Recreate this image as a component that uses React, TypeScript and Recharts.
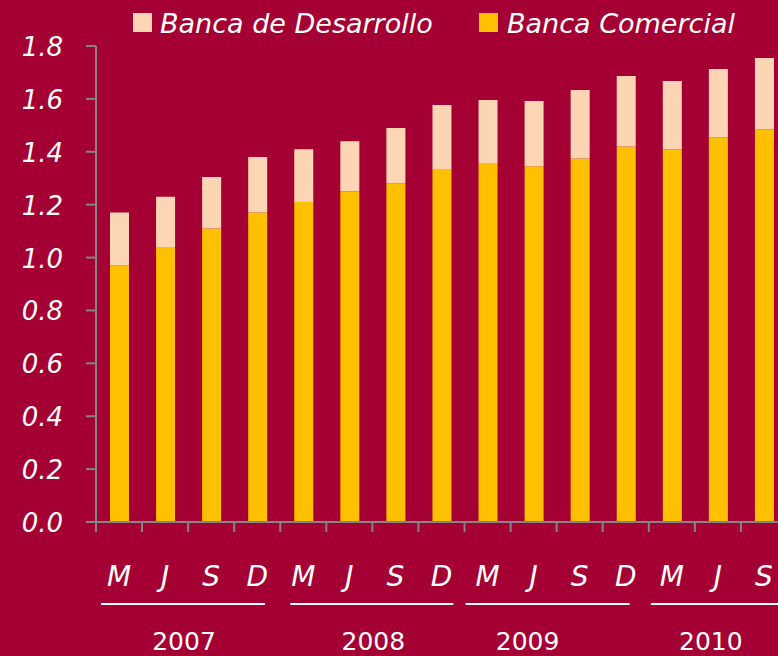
import React from 'react';
import { BarChart, Bar, XAxis, YAxis, Legend } from 'recharts';

const periods = ['Mar-07','Jun-07','Sep-07','Dic-07','Mar-08','Jun-08','Sep-08','Dic-08','Mar-09','Jun-09','Sep-09','Dic-09','Mar-10','Jun-10','Sep-10'];
const monthLabels = ['M','J','S','D','M','J','S','D','M','J','S','D','M','J','S'];
const yearLabels = ['2007','2008','2009','2010'];
const bancaComercial = [0.97,1.04,1.11,1.17,1.21,1.25,1.28,1.335,1.355,1.345,1.375,1.42,1.41,1.455,1.485];
const bancaDesarrollo = [0.20,0.19,0.195,0.21,0.20,0.19,0.21,0.242,0.241,0.247,0.259,0.267,0.258,0.258,0.27];
const yTicks = [0,0.2,0.4,0.6,0.8,1.0,1.2,1.4,1.6,1.8];

const data = periods.map((p, i) => ({
  period: p,
  comercial: bancaComercial[i],
  desarrollo: bancaDesarrollo[i],
}));

const BG = '#a50034';
const YELLOW = '#ffc000';
const PEACH = '#fcd5b5';
const AXIS = '#858585';
const FONT = '"DejaVu Sans", sans-serif';
const BW = 691 / 15;

const yearStyle = [
  { from: -18, to: 146, label: 65 },
  { from: -13, to: 150, label: 70 },
  { from: -22, to: 142, label: 40 },
  { from: -21, to: 160, label: 39 },
];

const XTick = (props: any) => {
  const { x, y, index } = props;
  const yi = Math.floor(index / 4);
  const first = index % 4 === 0;
  const ys = yearStyle[yi];
  return (
    <g>
      <line x1={x - BW / 2} x2={x - BW / 2} y1={y} y2={y + 10} stroke={AXIS} strokeWidth={2} />
      <text x={x} y={y + 64} textAnchor="middle" fill="#fff" fontSize={28} fontStyle="italic" fontFamily={FONT}>
        {monthLabels[index]}
      </text>
      {first && (
        <g>
          <line x1={x + ys.from} x2={x + ys.to} y1={y + 82} y2={y + 82} stroke="#fff" strokeWidth={2} />
          <text x={x + ys.label} y={y + 128} textAnchor="middle" fill="#fff" fontSize={25} fontFamily={FONT}>
            {yearLabels[yi]}
          </text>
        </g>
      )}
    </g>
  );
};

const YTick = (props: any) => {
  const { x, y, payload } = props;
  return (
    <text x={x} y={y + 10} textAnchor="end" fill="#fff" fontSize={26} fontStyle="italic" fontFamily={FONT}>
      {Number(payload.value).toFixed(1)}
    </text>
  );
};

const LegendContent = () => (
  <svg width={778} height={50} style={{ overflow: 'visible' }}>
    <rect x={133} y={13} width={19} height={19} fill={PEACH} />
    <text x={160} y={33} fill="#fff" fontSize={27} fontStyle="italic" fontFamily={FONT}>Banca de Desarrollo</text>
    <rect x={479} y={13} width={19} height={19} fill={YELLOW} />
    <text x={507} y={33} fill="#fff" fontSize={27} fontStyle="italic" fontFamily={FONT}>Banca Comercial</text>
  </svg>
);

export default function App() {
  return (
    <div style={{ position: 'fixed', left: 0, top: 0, width: 778, height: 656, overflow: 'hidden', background: BG }}>
      <BarChart
        width={800}
        height={656}
        data={data}
        margin={{ top: 46, right: 13, bottom: 104, left: 0 }}
        barSize={19}
      >
        <Legend
          layout="horizontal"
          verticalAlign="middle"
          align="center"
          wrapperStyle={{ position: 'absolute', top: 0, left: 0, width: 778, height: 50 }}
          content={<LegendContent />}
        />
        <YAxis
          width={96}
          domain={[0, 1.8]}
          ticks={yTicks}
          interval={0}
          axisLine={{ stroke: AXIS, strokeWidth: 2 }}
          tickLine={{ stroke: AXIS, strokeWidth: 2 }}
          tickSize={10}
          tickMargin={23}
          tick={<YTick />}
        />
        <XAxis
          dataKey="period"
          interval={0}
          height={30}
          axisLine={{ stroke: AXIS, strokeWidth: 2 }}
          tickLine={false}
          tickSize={0}
          tickMargin={0}
          tick={<XTick />}
        />
        <Bar dataKey="comercial" stackId="a" fill={YELLOW} isAnimationActive={false} />
        <Bar dataKey="desarrollo" stackId="a" fill={PEACH} isAnimationActive={false} />
      </BarChart>
    </div>
  );
}
